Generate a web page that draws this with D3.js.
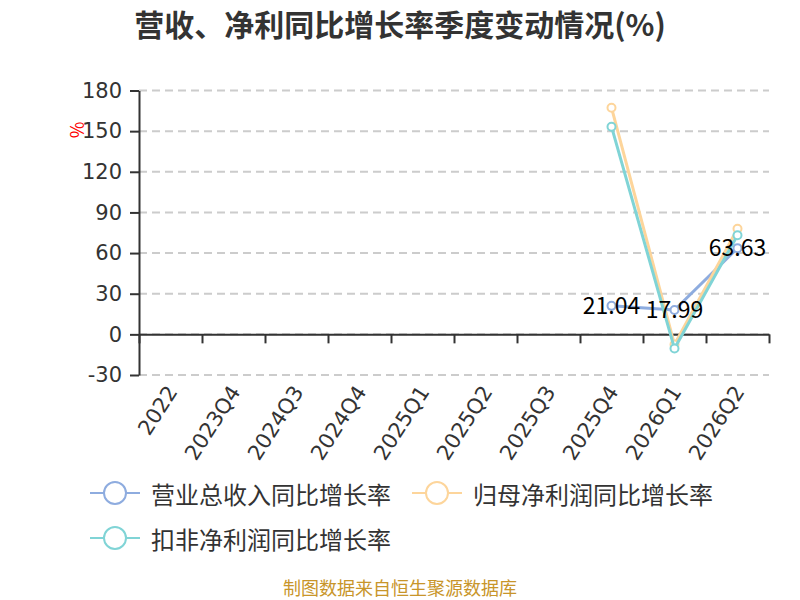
<!DOCTYPE html>
<html>
<head>
<meta charset="utf-8">
<script src="https://cdn.jsdelivr.net/npm/d3@7.9.0/dist/d3.min.js"></script>
<style>
  body { margin: 0; background: #fff; }
  svg { display: block; font-family: "Noto Sans CJK SC", "DejaVu Sans", sans-serif; }
</style>
</head>
<body>
<div id="chart"></div>
<script>
// categories and series
const categories = ['2022', '2023Q4', '2024Q3', '2024Q4', '2025Q1', '2025Q2', '2025Q3', '2025Q4', '2026Q1', '2026Q2'];
const revenueGrowth = [null, null, null, null, null, null, null, 21.04, 17.99, 63.63];
const parentProfitGrowth = [null, null, null, null, null, null, null, 167.3, -7.5, 77.9];
const deductedProfitGrowth = [null, null, null, null, null, null, null, 153.3, -10.5, 73.2];
const yTicks = [-30, 0, 30, 60, 90, 120, 150, 180];

const seriesNames = ['营业总收入同比增长率', '归母净利润同比增长率', '扣非净利润同比增长率'];
const seriesColors = ['#8eacdf', '#fdd59b', '#80d4d6'];

const width = 800;
const height = 600;
const plot = { left: 139, right: 769, top: 90.5, bottom: 375 };

const svg = d3.select('#chart')
    .append('svg')
    .attr('width', width)
    .attr('height', height);

const x = d3.scaleBand()
    .domain(categories)
    .range([plot.left, plot.right]);

const y = d3.scaleLinear()
    .domain([-30, 180])
    .range([plot.bottom, plot.top]);

// title
svg.append('text')
    .attr('x', width / 2)
    .attr('y', 23)
    .attr('text-anchor', 'middle')
    .attr('dominant-baseline', 'central')
    .attr('font-size', 30)
    .attr('font-weight', 'bold')
    .attr('fill', '#333')
    .text('营收、净利同比增长率季度变动情况(%)');

// gridlines
svg.append('g')
    .selectAll('line')
    .data(yTicks)
    .join('line')
    .attr('x1', plot.left)
    .attr('x2', plot.right)
    .attr('y1', d => y(d))
    .attr('y2', d => y(d))
    .attr('stroke', '#ccc')
    .attr('stroke-width', 2)
    .attr('stroke-dasharray', '8,5');

// y axis
const yAxis = svg.append('g')
    .attr('transform', `translate(${plot.left},0)`)
    .call(d3.axisLeft(y).tickValues(yTicks).tickSize(9).tickSizeOuter(0).tickPadding(8).tickFormat(d => String(d)));
yAxis.select('.domain').attr('stroke', '#333').attr('stroke-width', 2);
yAxis.selectAll('.tick line').attr('stroke', '#333').attr('stroke-width', 2);
yAxis.selectAll('.tick text')
    .attr('font-size', 21)
    .attr('font-family', '"DejaVu Sans", sans-serif')
    .attr('fill', '#333');

// axis name
svg.append('text')
    .attr('transform', 'translate(76,130) rotate(-90)')
    .attr('text-anchor', 'middle')
    .attr('dominant-baseline', 'central')
    .attr('font-size', 18)
    .attr('fill', '#f00')
    .text('%');

// x axis at zero, ticks on band boundaries
const xEdges = d3.scaleLinear().domain([0, categories.length]).range([plot.left, plot.right]);
const xAxis = svg.append('g')
    .attr('transform', `translate(0,${y(0)})`)
    .call(d3.axisBottom(xEdges).tickValues(d3.range(categories.length + 1)).tickSize(9).tickSizeOuter(0).tickFormat(''));
xAxis.select('.domain').attr('stroke', '#333').attr('stroke-width', 2);
xAxis.selectAll('.tick line').attr('stroke', '#333').attr('stroke-width', 2);

svg.append('g')
    .selectAll('text')
    .data(categories)
    .join('text')
    .attr('transform', d => `translate(${x(d) + x.bandwidth() / 2 + 2},388) rotate(-57)`)
    .attr('text-anchor', 'end')
    .attr('dominant-baseline', 'central')
    .attr('font-size', 21)
    .attr('font-family', '"DejaVu Sans", sans-serif')
    .attr('fill', '#333')
    .text(d => d);

// lines
const allSeries = [revenueGrowth, parentProfitGrowth, deductedProfitGrowth];
const line = d3.line()
    .defined(d => d.v !== null)
    .x(d => x(d.c) + x.bandwidth() / 2)
    .y(d => y(d.v));

allSeries.forEach((values, i) => {
    const pts = categories.map((c, j) => ({ c, v: values[j] }));
    const g = svg.append('g');
    g.append('path')
        .datum(pts)
        .attr('d', line)
        .attr('fill', 'none')
        .attr('stroke', seriesColors[i])
        .attr('stroke-width', 3)
        .attr('stroke-linejoin', 'round');
    g.selectAll('circle')
        .data(pts.filter(d => d.v !== null))
        .join('circle')
        .attr('cx', d => x(d.c) + x.bandwidth() / 2)
        .attr('cy', d => y(d.v))
        .attr('r', 4)
        .attr('fill', '#fff')
        .attr('stroke', seriesColors[i])
        .attr('stroke-width', 2);
});

// value labels for revenue series
svg.append('g')
    .selectAll('text')
    .data(categories.map((c, j) => ({ c, v: revenueGrowth[j] })).filter(d => d.v !== null))
    .join('text')
    .attr('x', d => x(d.c) + x.bandwidth() / 2)
    .attr('y', d => y(d.v) - 2)
    .attr('text-anchor', 'middle')
    .attr('dominant-baseline', 'central')
    .attr('font-size', 23)
    .attr('fill', '#000')
    .text(d => d.v.toFixed(2));

// legend
const legendItems = [
    { x: 90, y: 493 },
    { x: 412, y: 493 },
    { x: 90, y: 538 }
];
const legend = svg.append('g');
legendItems.forEach((p, i) => {
    const g = legend.append('g').attr('transform', `translate(${p.x},${p.y})`);
    g.append('line')
        .attr('x1', 0).attr('x2', 50)
        .attr('stroke', seriesColors[i])
        .attr('stroke-width', 2);
    g.append('circle')
        .attr('cx', 25)
        .attr('r', 11)
        .attr('fill', '#fff')
        .attr('stroke', seriesColors[i])
        .attr('stroke-width', 2);
    g.append('text')
        .attr('x', 61)
        .attr('dominant-baseline', 'central')
        .attr('font-size', 24)
        .attr('fill', '#333')
        .text(seriesNames[i]);
});

// source note
svg.append('text')
    .attr('x', width / 2)
    .attr('y', 587)
    .attr('text-anchor', 'middle')
    .attr('dominant-baseline', 'central')
    .attr('font-size', 18)
    .attr('fill', '#c8952a')
    .text('制图数据来自恒生聚源数据库');
</script>
</body>
</html>
